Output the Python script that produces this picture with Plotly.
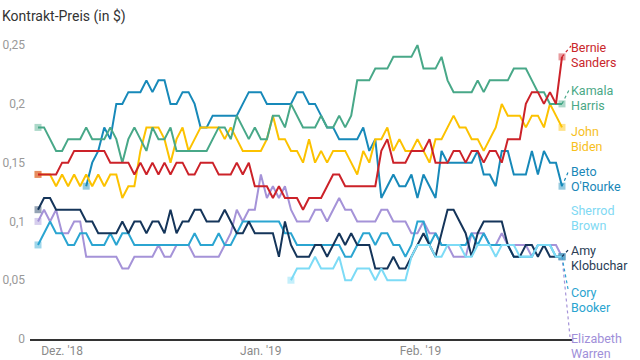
import plotly.graph_objects as go

# ---------------- data (contract price in $) ----------------
N = None
days = list(range(88))
tick_pos = [4, 37, 63.5]
tick_text = ["Dez. '18", "Jan. '19", "Feb. '19"]
y_ticks = [0, 0.05, 0.1, 0.15, 0.2, 0.25]
y_ticktext = ["0", "0,05", "0,1", "0,15", "0,2", "0,25"]

bernie = [0.14,0.14,0.14,0.14,0.15,0.15,0.16,0.16,0.16,0.16,0.16,0.16,0.15,0.15,0.15,0.15,0.14,0.15,0.14,0.15,
          0.14,0.15,0.14,0.15,0.15,0.14,0.14,0.15,0.15,0.15,0.14,0.14,0.14,0.15,0.14,0.15,0.13,0.13,0.13,0.12,
          0.13,0.12,0.12,0.12,0.11,0.12,0.12,0.12,0.13,0.14,0.14,0.13,0.13,0.13,0.13,0.13,0.13,0.16,0.17,0.15,
          0.15,0.15,0.16,0.16,0.16,0.17,0.15,0.15,0.15,0.16,0.16,0.15,0.16,0.16,0.15,0.16,0.16,0.15,0.17,0.17,
          0.17,0.20,0.21,0.21,0.20,0.21,0.20,0.24]
kamala = [0.18,0.18,0.17,0.16,0.16,0.17,0.17,0.17,0.18,0.17,0.17,0.17,0.18,0.17,0.15,0.17,0.18,0.17,0.16,0.18,
          0.17,0.17,0.18,0.16,0.16,0.16,0.16,0.16,0.16,0.17,0.18,0.18,0.17,0.19,0.18,0.17,0.18,0.17,0.17,0.19,
          0.19,0.18,0.20,0.19,0.18,0.18,0.18,0.19,0.18,0.18,0.19,0.18,0.19,0.22,0.22,0.22,0.23,0.23,0.23,0.24,
          0.24,0.24,0.24,0.25,0.23,0.23,0.23,0.24,0.22,0.21,0.21,0.21,0.21,0.22,0.21,0.22,0.22,0.22,0.22,0.23,
          0.23,0.23,0.22,0.21,0.21,0.20,0.20,0.20]
biden = [0.14,0.14,0.14,0.13,0.14,0.13,0.14,0.13,0.14,0.13,0.14,0.13,0.14,0.14,0.12,0.13,0.13,0.16,0.18,0.18,
         0.18,0.17,0.15,0.17,0.18,0.16,0.17,0.18,0.18,0.18,0.18,0.17,0.18,0.17,0.16,0.16,0.16,0.16,0.17,0.19,
         0.17,0.17,0.16,0.16,0.15,0.17,0.15,0.16,0.15,0.16,0.16,0.16,0.15,0.14,0.16,0.15,0.17,0.17,0.18,0.16,
         0.17,0.16,0.16,0.17,0.16,0.15,0.17,0.17,0.18,0.19,0.18,0.18,0.17,0.17,0.16,0.17,0.18,0.20,0.19,0.19,
         0.19,0.18,0.19,0.19,0.18,0.20,0.19,0.18]
beto = [N,N,N,N,N,N,N,N,0.13,0.15,0.16,0.18,0.17,0.20,0.20,0.21,0.21,0.21,0.22,0.21,
        0.22,0.22,0.20,0.20,0.21,0.21,0.20,0.18,0.18,0.19,0.19,0.19,0.19,0.19,0.20,0.21,0.21,0.21,0.20,0.20,
        0.20,0.20,0.20,0.21,0.21,0.20,0.20,0.19,0.18,0.18,0.17,0.17,0.17,0.17,0.18,0.16,0.17,0.12,0.13,0.14,
        0.13,0.13,0.14,0.12,0.14,0.13,0.12,0.16,0.15,0.15,0.15,0.15,0.15,0.16,0.14,0.14,0.13,0.16,0.16,0.14,
        0.14,0.14,0.16,0.14,0.16,0.15,0.15,0.13]
sherrod = [N]*42 + [0.05,0.06,0.06,0.06,0.07,0.06,0.06,0.06,0.07,0.05,0.05,0.06,0.06,0.06,0.05,0.06,0.05,0.05,
           0.05,0.05,0.07,0.08,0.08,0.08,0.07,0.07,0.08,0.08,0.08,0.07,0.07,0.08,0.08,0.08,0.07,0.08,0.08,0.08,
           0.07,0.07,0.07,0.08,0.08,0.08,0.07,0.07]
amy = [0.11,0.12,0.12,0.11,0.11,0.11,0.11,0.11,0.10,0.10,0.09,0.09,0.09,0.09,0.10,0.09,0.10,0.10,0.09,0.10,
       0.10,0.09,0.11,0.09,0.10,0.10,0.11,0.11,0.10,0.10,0.10,0.11,0.10,0.09,0.09,0.10,0.09,0.09,0.09,0.09,
       0.07,0.10,0.08,0.07,0.07,0.07,0.08,0.08,0.07,0.08,0.09,0.08,0.09,0.08,0.08,0.08,0.06,0.06,0.06,0.07,
       0.06,0.06,0.07,0.08,0.09,0.08,0.07,0.09,0.11,0.11,0.10,0.09,0.07,0.09,0.10,0.10,0.10,0.10,0.08,0.07,
       0.07,0.08,0.08,0.07,0.08,0.07,0.07,0.07]
cory = [0.08,0.09,0.10,0.09,0.09,0.08,0.08,0.09,0.09,0.08,0.08,0.08,0.09,0.08,0.09,0.09,0.08,0.08,0.08,0.08,
        0.08,0.08,0.08,0.08,0.08,0.08,0.09,0.08,0.08,0.08,0.09,0.08,0.08,0.09,0.10,0.10,0.10,0.10,0.10,0.10,
        0.10,0.09,0.09,0.08,0.08,0.08,0.08,0.08,0.08,0.08,0.08,0.07,0.07,0.08,0.09,0.09,0.08,0.09,0.09,0.08,
        0.08,0.07,0.08,0.10,0.10,0.08,0.09,0.08,0.08,0.08,0.08,0.08,0.09,0.08,0.09,0.08,0.08,0.08,0.08,0.07,
        0.07,0.07,0.07,0.08,0.08,0.08,0.07,0.07]
warren = [0.10,0.11,0.10,0.11,0.09,0.09,0.10,0.10,0.07,0.07,0.07,0.07,0.07,0.07,0.06,0.06,0.07,0.07,0.07,0.07,
          0.08,0.07,0.07,0.08,0.08,0.08,0.07,0.07,0.07,0.07,0.07,0.08,0.09,0.11,0.10,0.11,0.11,0.14,0.12,0.13,
          0.12,0.13,0.11,0.10,0.10,0.10,0.11,0.11,0.10,0.11,0.12,0.11,0.11,0.10,0.10,0.10,0.10,0.11,0.11,0.10,
          0.10,0.10,0.09,0.09,0.10,0.09,0.09,0.08,0.08,0.07,0.07,0.07,0.09,0.09,0.09,0.08,0.08,0.09,0.08,0.08,
          0.08,0.08,0.07,0.08,0.08,0.08,0.08,0.07]

# ---------------- styling ----------------
W, H = 640, 360
L, R, T, B = 30, 68, 31, 21
Y_MAX = 0.262
X_MIN, X_MAX = -1.33, 88.66
FONT = "Roboto"
LABEL_X_PX = 569

# (name, values, line colour, label colour, label line centre px, leader end px or None)
series = [
    ("Elizabeth<br>Warren", warren, "#a593d8", "#a08fd9", 338, (570, 337)),
    ("Cory<br>Booker", cory, "#2ba5d1", "#2aa4d0", 292, (568, 289)),
    ("Amy<br>Klobuchar", amy, "#15355a", "#2a3d55", 250, (569, 249)),
    ("Sherrod<br>Brown", sherrod, "#7ddbf6", "#80d9f3", 210, None),
    ("Beto<br>O'Rourke", beto, "#1789b9", "#1a87b7", 171, (569, 170)),
    ("John<br>Biden", biden, "#fcc200", "#f7c01c", 131, None),
    ("Kamala<br>Harris", kamala, "#48a888", "#4aa886", 90, (570, 88)),
    ("Bernie<br>Sanders", bernie, "#cc2229", "#c9262b", 47, (571, 46)),
]


def px_to_x(px):
    return X_MIN + (px - L) / (W - L - R) * (X_MAX - X_MIN)


def px_to_y(py):
    return (H - B - py) / (H - T - B) * Y_MAX


fig = go.Figure()
shapes = []
annotations = []

for name, vals, col, lcol, ly, leader in series:
    fig.add_trace(go.Scatter(x=days, y=vals, mode="lines",
                             line=dict(color=col, width=2), hoverinfo="skip",
                             showlegend=False, connectgaps=False))
    idx = [i for i, v in enumerate(vals) if v is not None]
    ends = [idx[0], idx[-1]]
    fig.add_trace(go.Scatter(x=[days[i] for i in ends], y=[vals[i] for i in ends],
                             mode="markers",
                             marker=dict(symbol="square", size=7, color=col, opacity=0.45),
                             hoverinfo="skip", showlegend=False, cliponaxis=False))
    if leader is not None:
        shapes.append(dict(type="line", xref="x", yref="y",
                           x0=days[idx[-1]], y0=vals[idx[-1]],
                           x1=px_to_x(leader[0]), y1=px_to_y(leader[1]),
                           line=dict(color=col, width=1.2, dash="dot"), layer="above"))
    first, second = name.split("<br>")
    for k, txt in enumerate([first, second]):
        annotations.append(dict(text=txt, xref="paper", yref="paper",
                                x=(LABEL_X_PX - L) / (W - L - R),
                                y=(H - B - (ly + 15 * k)) / (H - T - B),
                                xanchor="left", yanchor="middle", showarrow=False,
                                font=dict(family=FONT, size=12.5, color=lcol)))

fig.update_layout(
    width=W, height=H,
    margin=dict(l=L, r=R, t=T, b=B, autoexpand=False),
    paper_bgcolor="white", plot_bgcolor="white",
    font=dict(family=FONT, size=12, color="#8a8a8a"),
    title=dict(text="Kontrakt-Preis (in $)", xref="container", yref="container",
               x=2 / W, y=1 - 16 / H, xanchor="left", yanchor="middle",
               font=dict(family=FONT, size=14, color="#333333")),
    xaxis=dict(range=[X_MIN, X_MAX], tickvals=tick_pos, ticktext=tick_text,
               showgrid=False, zeroline=False, showline=True, automargin=False,
               linecolor="#333333", linewidth=1.5, ticks="",
               tickfont=dict(family=FONT, size=12, color="#8a8a8a"), fixedrange=True),
    yaxis=dict(range=[0, Y_MAX], tickvals=y_ticks, ticktext=y_ticktext,
               showgrid=False, zeroline=False, showline=False, ticks="", automargin=False,
               ticklabelstandoff=4,
               tickfont=dict(family=FONT, size=12, color="#999999"), fixedrange=True),
    shapes=shapes,
    annotations=annotations,
)

fig.write_html("out.html", config={"displayModeBar": False},
               post_script="document.body.style.margin='0px';document.body.style.overflow='hidden';")
